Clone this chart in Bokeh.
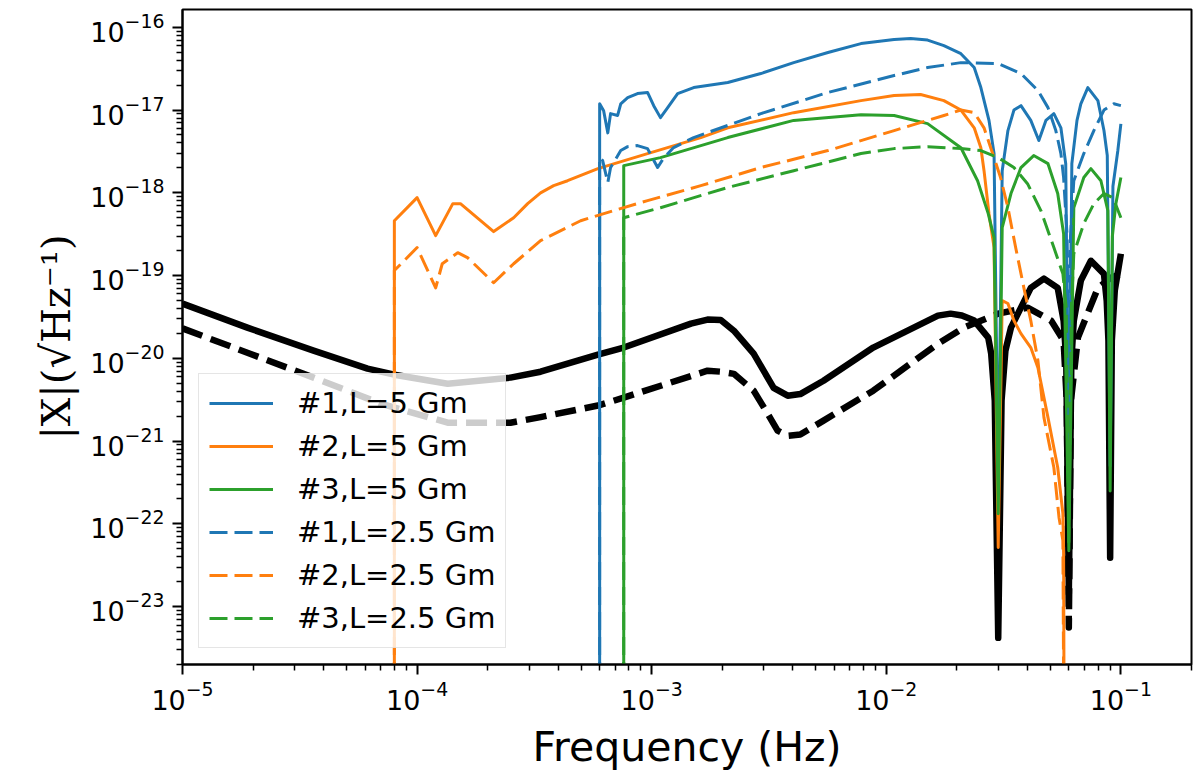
from bokeh.embed import file_html
from bokeh.models import FixedTicker, Legend, LegendItem, Range1d
from bokeh.plotting import figure
from bokeh.resources import INLINE

# black reference curves (no legend entry)
f_k5 = [1e-5, 1.89e-5, 3.62e-5, 6.15e-5, 8e-5, 1.35e-4, 2.5e-4, 3.36e-4, 5.9e-4, 7.6e-4,
        1.47e-3, 1.73e-3, 1.97e-3, 2.24e-3, 2.72e-3, 3.31e-3, 3.8e-3, 4.3e-3, 5.4e-3, 8.8e-3,
        1.66e-2, 1.88e-2, 2.1e-2, 2.37e-2, 2.72e-2, 2.8e-2, 2.9e-2, 3.0e-2, 3.1e-2, 3.22e-2,
        3.4e-2, 3.75e-2, 4.13e-2, 4.7e-2, 5.38e-2, 5.7e-2, 5.85e-2, 6.0e-2, 6.15e-2, 6.3e-2,
        6.75e-2, 7.45e-2, 8.47e-2, 8.7e-2, 8.85e-2, 9.0e-2, 9.15e-2, 9.42e-2, 0.1]
a_k5 = [4.58e-20, 2.35e-20, 1.24e-20, 7.5e-21, 6.35e-21, 4.94e-21, 5.85e-21, 6.9e-21, 1.11e-20, 1.35e-20,
        2.63e-20, 2.94e-20, 2.9e-20, 2.16e-20, 1.14e-20, 4.4e-21, 3.54e-21, 3.7e-21, 5.37e-21, 1.35e-20,
        3.28e-20, 3.47e-20, 3.3e-20, 2.86e-20, 1.78e-20, 1.14e-20, 3.1e-21, 4.2e-24, 3.1e-21, 1.24e-20,
        2.35e-20, 4.1e-20, 7.1e-20, 9.2e-20, 7.1e-20, 2.86e-20, 9.4e-21, 1.44e-23, 9.4e-21, 2.86e-20,
        8.7e-20, 1.51e-19, 1.05e-19, 4.98e-20, 1.64e-20, 3.9e-23, 1.64e-20, 6.6e-20, 1.84e-19]

f_k25 = [1e-5, 1.89e-5, 3.62e-5, 7.0e-5, 1.35e-4, 2.5e-4, 3.36e-4, 5.9e-4, 7.6e-4, 1.73e-3,
         1.97e-3, 2.24e-3, 2.72e-3, 3.12e-3, 3.44e-3, 3.8e-3, 4.3e-3, 5.4e-3, 8.8e-3, 1.66e-2,
         2.14e-2, 3.0e-2, 4.0e-2, 5.04e-2, 5.7e-2, 5.88e-2, 6.0e-2, 6.12e-2, 6.56e-2, 7.98e-2,
         9.06e-2, 0.1]
a_k25 = [2.3e-20, 1.17e-20, 5.85e-21, 2.84e-21, 1.67e-21, 1.67e-21, 1.95e-21, 2.69e-21, 3.35e-21, 7.1e-21,
         6.9e-21, 6.5e-21, 4.07e-21, 2.15e-21, 1.34e-21, 1.16e-21, 1.2e-21, 1.77e-21, 4.07e-21, 1.5e-20,
         2.35e-20, 3.47e-20, 4.1e-20, 2.86e-20, 1.64e-20, 3e-21, 5.6e-24, 3e-21, 1.78e-20, 7.1e-20,
         9.4e-20, 1.05e-19]

# #1, L=5 Gm
f_b5 = [6e-4, 6e-4, 6.24e-4, 6.5e-4, 6.68e-4, 7.16e-4, 7.38e-4, 7.9e-4, 8.7e-4, 9.6e-4,
        1.02e-3, 1.09e-3, 1.17e-3, 1.29e-3, 1.51e-3, 2.11e-3, 2.92e-3, 4.03e-3, 5.64e-3, 7.8e-3,
        1.08e-2, 1.27e-2, 1.5e-2, 1.76e-2, 2.08e-2, 2.37e-2, 2.53e-2, 2.74e-2, 2.88e-2, 3.0e-2,
        3.12e-2, 3.3e-2, 3.5e-2, 3.75e-2, 4.13e-2, 4.47e-2, 4.79e-2, 5.18e-2, 5.55e-2, 5.82e-2,
        6.0e-2, 6.18e-2, 6.5e-2, 6.75e-2, 7.23e-2, 7.98e-2, 8.47e-2, 8.75e-2, 9.0e-2, 9.25e-2,
        9.7e-2, 0.1]
a_b5 = [1e-26, 1.19e-17, 9.8e-18, 5.3e-18, 9.05e-18, 8.6e-18, 1.19e-17, 1.41e-17, 1.58e-17, 1.63e-17,
        1.13e-17, 8.1e-18, 1.07e-17, 1.58e-17, 1.87e-17, 2.15e-17, 2.76e-17, 3.74e-17, 4.95e-17, 6.35e-17,
        7.1e-17, 7.3e-17, 7.0e-17, 6.0e-17, 4.8e-17, 3.26e-17, 1.87e-17, 7.5e-18, 2.98e-18, 3e-22,
        1.85e-18, 5.65e-18, 1.0e-17, 1.13e-17, 7.5e-18, 4.28e-18, 7.5e-18, 9.05e-18, 6.1e-18, 2.25e-18,
        3e-22, 2.25e-18, 7.5e-18, 1.19e-17, 1.87e-17, 1.3e-17, 5.65e-18, 2.82e-18, 5e-22, 1.2e-18,
        3.2e-18, 6.8e-18]

# #2, L=5 Gm
f_o5 = [8e-5, 8e-5, 1.0e-4, 1.2e-4, 1.42e-4, 1.53e-4, 2.12e-4, 2.58e-4, 2.96e-4, 3.36e-4,
        3.82e-4, 4.38e-4, 5.9e-4, 9.6e-4, 1.62e-3, 2.11e-3, 4.03e-3, 7.8e-3, 1.08e-2, 1.4e-2,
        1.76e-2, 2.08e-2, 2.37e-2, 2.53e-2, 2.61e-2, 2.74e-2, 2.88e-2, 3.0e-2, 3.12e-2, 3.3e-2,
        3.5e-2, 3.75e-2, 4.13e-2, 4.43e-2, 4.89e-2, 5.38e-2, 5.66e-2, 5.7e-2, 5.75e-2]
a_o5 = [1e-26, 4.6e-19, 8.75e-19, 3.04e-19, 7.4e-19, 7.4e-19, 3.4e-19, 5.0e-19, 7.4e-19, 1.0e-18,
        1.22e-18, 1.4e-18, 1.96e-18, 2.98e-18, 4.65e-18, 6.1e-18, 9.3e-18, 1.3e-17, 1.5e-17, 1.54e-17,
        1.3e-17, 1.0e-17, 6.1e-18, 3.5e-18, 1.85e-18, 5.6e-19, 2.18e-19, 5.2e-23, 4.98e-20, 4.6e-20,
        2.86e-20, 1.99e-20, 1.35e-20, 7.7e-21, 1.92e-21, 4.8e-22, 1.33e-22, 4.4e-23, 1e-26]

# #3, L=5 Gm
f_g5 = [7.6e-4, 7.6e-4, 1.09e-3, 2.11e-3, 4.03e-3, 7.8e-3, 1.08e-2, 1.5e-2, 2.08e-2, 2.45e-2,
        2.72e-2, 2.88e-2, 3.0e-2, 3.12e-2, 3.4e-2, 3.75e-2, 4.25e-2, 4.89e-2, 5.38e-2, 5.7e-2,
        6.0e-2, 6.3e-2, 6.95e-2, 7.45e-2, 8.22e-2, 8.8e-2, 9.0e-2, 9.2e-2, 9.52e-2, 0.1]
a_g5 = [1e-26, 2.13e-18, 2.66e-18, 4.65e-18, 7.5e-18, 8.8e-18, 8.6e-18, 6.85e-18, 3.5e-18, 1.4e-18,
        5.6e-19, 2.88e-19, 1.33e-22, 3.8e-19, 9.8e-19, 2.02e-18, 2.82e-18, 2.25e-18, 9.8e-19, 3.2e-19,
        4.75e-23, 6.6e-19, 1.53e-18, 1.96e-18, 1.4e-18, 6.1e-19, 2.5e-22, 3.0e-19, 7.4e-19, 1.53e-18]

# #1, L=2.5 Gm
f_b25 = [6e-4, 6e-4, 6.18e-4, 6.5e-4, 6.68e-4, 7.38e-4, 7.9e-4, 8.7e-4, 9.6e-4, 1.06e-3,
         1.12e-3, 1.24e-3, 1.51e-3, 2.92e-3, 5.64e-3, 1.08e-2, 1.5e-2, 2.08e-2, 3.0e-2, 3.75e-2,
         4.43e-2, 4.89e-2, 5.28e-2, 5.55e-2, 5.7e-2, 5.9e-2, 6.0e-2, 6.1e-2, 6.3e-2, 6.95e-2,
         7.67e-2, 8.47e-2, 9.33e-2, 0.1]
a_b25 = [1e-26, 2.66e-18, 2.45e-18, 1.33e-18, 2.02e-18, 3.24e-18, 3.61e-18, 3.72e-18, 3.42e-18, 2.02e-18,
         2.59e-18, 3.52e-18, 4.65e-18, 9.05e-18, 1.63e-17, 2.61e-17, 3.26e-17, 3.74e-17, 3.64e-17, 2.76e-17,
         1.72e-17, 1.07e-17, 5.65e-18, 2.98e-18, 1.53e-18, 3e-19, 2e-21, 3e-19, 1.4e-18, 2.98e-18,
         5.65e-18, 1.0e-17, 1.19e-17, 1.13e-17]

# #2, L=2.5 Gm
f_o25 = [8e-5, 8e-5, 1.0e-4, 1.2e-4, 1.28e-4, 1.49e-4, 1.64e-4, 2.12e-4, 2.58e-4, 3.36e-4,
         4.98e-4, 6.89e-4, 9.6e-4, 1.62e-3, 2.92e-3, 5.64e-3, 1.08e-2, 1.76e-2, 2.08e-2, 2.37e-2,
         2.61e-2, 2.84e-2, 3.07e-2, 3.3e-2, 3.56e-2, 3.86e-2, 4.13e-2, 4.43e-2, 4.7e-2, 5.18e-2,
         5.45e-2, 5.66e-2, 5.75e-2]
a_o25 = [1e-26, 1.15e-19, 2.18e-19, 7.1e-20, 1.39e-19, 1.89e-19, 1.65e-19, 8.2e-20, 1.39e-19, 2.64e-19,
         4.6e-19, 6.1e-19, 8.05e-19, 1.22e-18, 2.02e-18, 3.24e-18, 5.65e-18, 8.6e-18, 1.0e-17, 9.3e-18,
         6.1e-18, 2.98e-18, 1.53e-18, 6.6e-19, 2.18e-19, 7.1e-20, 2.86e-20, 9.4e-21, 1.92e-21, 4.8e-22,
         1.19e-22, 6.3e-23, 1e-26]

# #3, L=2.5 Gm
f_g25 = [7.6e-4, 7.6e-4, 1.09e-3, 2.11e-3, 4.03e-3, 7.8e-3, 1.08e-2, 1.5e-2, 2.08e-2, 2.53e-2,
         3.0e-2, 3.5e-2, 4.0e-2, 4.56e-2, 5.18e-2, 5.66e-2, 5.85e-2, 6.0e-2, 6.15e-2, 6.3e-2,
         6.95e-2, 7.67e-2, 8.47e-2, 9.25e-2, 0.1]
a_g25 = [1e-26, 5.0e-19, 6.6e-19, 1.16e-18, 1.85e-18, 2.98e-18, 3.42e-18, 3.61e-18, 3.42e-18, 3.24e-18,
         2.66e-18, 2.02e-18, 1.29e-18, 6.1e-19, 2.18e-19, 1.05e-19, 4e-20, 6e-23, 4e-20, 1.84e-19,
         4.25e-19, 7.4e-19, 9.8e-19, 8.75e-19, 5.0e-19]

labels = ["#1,L=5 Gm", "#2,L=5 Gm", "#3,L=5 Gm",
          "#1,L=2.5 Gm", "#2,L=2.5 Gm", "#3,L=2.5 Gm"]
blue, orange, green = "#1f77b4", "#ff7f0e", "#2ca02c"

p = figure(width=1194, height=774, x_axis_type="log", y_axis_type="log",
           x_range=Range1d(1e-5, 0.2), y_range=Range1d(2e-24, 1.64e-16),
           output_backend="svg", toolbar_location=None,
           min_border_left=182, min_border_right=3, min_border_top=9, min_border_bottom=110)
p.grid.visible = False
p.outline_line_color = "black"
p.outline_line_width = 2
p.background_fill_color = "white"

p.line(f_k5, a_k5, color="black", line_width=6.5, line_join="round")
p.line(f_k25, a_k25, color="black", line_width=6.5, line_dash="21 9", line_join="round")

series = [
    (f_b5, a_b5, blue, "solid"),
    (f_o5, a_o5, orange, "solid"),
    (f_g5, a_g5, green, "solid"),
    (f_b25, a_b25, blue, "18 7"),
    (f_o25, a_o25, orange, "18 7"),
    (f_g25, a_g25, green, "18 7"),
]
items = []
for (fx, ay, col, dash), lab in zip(series, labels):
    r = p.line(fx, ay, color=col, line_width=3, line_dash=dash, line_join="round")
    items.append(LegendItem(label=lab, renderers=[r]))

legend = Legend(items=items, location="bottom_left", margin=16, padding=10, spacing=5,
                glyph_width=64, glyph_height=38, label_height=38, label_standoff=24,
                label_text_font="DejaVu Sans", label_text_font_size="29px",
                label_text_color="black",
                border_line_color="#cccccc", border_line_width=1.5,
                background_fill_color="white", background_fill_alpha=0.8)
p.add_layout(legend)

p.xaxis.ticker = FixedTicker(
    ticks=[10.0 ** k for k in range(-5, 0)],
    minor_ticks=[m * 10.0 ** k for k in range(-5, 0) for m in range(2, 10)])
p.yaxis.ticker = FixedTicker(
    ticks=[10.0 ** k for k in range(-23, -15)],
    minor_ticks=[m * 10.0 ** k for k in range(-24, -15) for m in range(2, 10)])

for ax in (p.xaxis, p.yaxis):
    ax.axis_line_width = 2
    ax.axis_line_color = "black"
    ax.major_tick_out = 10
    ax.major_tick_in = 0
    ax.minor_tick_out = 6
    ax.minor_tick_in = 0
    ax.major_tick_line_width = 2
    ax.minor_tick_line_width = 1.5
    ax.major_tick_line_color = "black"
    ax.minor_tick_line_color = "black"
    ax.major_label_text_font = "DejaVu Sans"
    ax.major_label_text_font_size = "27px"
    ax.major_label_text_color = "black"
    ax.axis_label_text_font_style = "normal"
    ax.axis_label_text_color = "black"

p.xaxis.major_label_standoff = 6
p.yaxis.major_label_standoff = 8
p.xaxis.axis_label = "Frequency (Hz)"
p.xaxis.axis_label_text_font = "DejaVu Sans"
p.xaxis.axis_label_text_font_size = "41px"
p.xaxis.axis_label_standoff = 10
p.yaxis.axis_label = "|X|(√Hz⁻¹)"
p.yaxis.axis_label_text_font = "DejaVu Serif"
p.yaxis.axis_label_text_font_size = "40px"
p.yaxis.axis_label_standoff = 8

open("out.html", "w").write(file_html(p, INLINE))
